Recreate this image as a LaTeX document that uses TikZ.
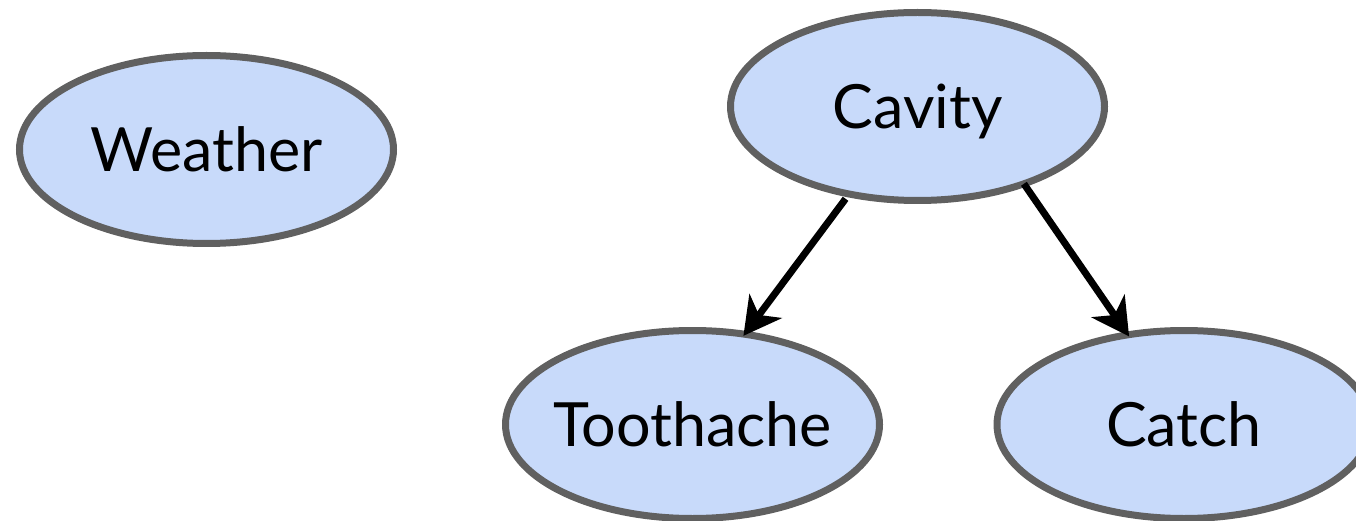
\documentclass[tikz,border=0pt]{standalone}
\usepackage{fontspec}
\setmainfont{Lato}
\usetikzlibrary{shapes.geometric,arrows.meta}
\definecolor{nodefill}{HTML}{C8DAFA}
\definecolor{nodeline}{HTML}{606060}
\begin{document}
\begin{tikzpicture}[x=1pt,y=-1pt,
  var/.style={ellipse, draw=nodeline, fill=nodefill, line width=7pt,
    minimum width=374pt, minimum height=188pt,
    inner xsep=-60pt, inner ysep=0pt, outer sep=0pt,
    font=\fontsize{61}{70}\selectfont, text height=43.7pt, text depth=0pt},
  edge/.style={line width=7pt, draw=black,
    -{Stealth[length=37pt, width=40pt, inset=11pt]}}]
  \useasboundingbox (0,0) rectangle (1356,521);
  \clip (0,0) rectangle (1356,521);

  % variables of the network
  \node[var] (Weather)   at (206.5,149.5) {Weather};
  \node[var] (Cavity)    at (917.5,106.5) {Cavity};
  \node[var] (Toothache) at (692.5,424.5) {Toothache};
  \node[var] (Catch)     at (1184,424.5)  {Catch};

  % dependencies
  \draw[edge, shorten <=6pt, shorten >=-2pt] (Cavity.232.8) -- (Toothache.60.5);
  \draw[edge, shorten >=-2pt] (Cavity.-36.4) -- (Catch.122);
\end{tikzpicture}
\end{document}
